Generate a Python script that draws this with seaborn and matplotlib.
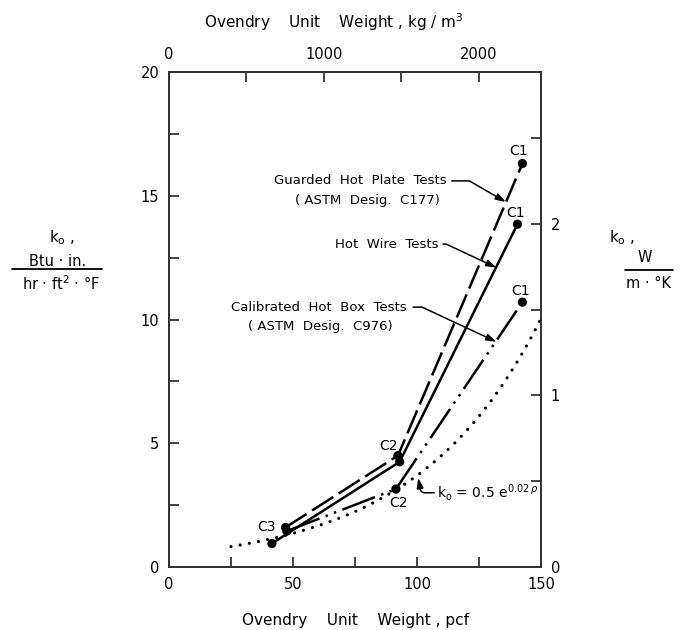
import numpy as np
import pandas as pd
import matplotlib
matplotlib.use("Agg")
import matplotlib.pyplot as plt
import seaborn as sns
from matplotlib.ticker import FixedLocator, MultipleLocator

sns.set_style("ticks")
plt.rcParams["font.family"] = ["DejaVu Sans"]
plt.rcParams["mathtext.fontset"] = "dejavusans"
plt.rcParams["text.color"] = "black"

# Thermal conductivity k0 (Btu·in./hr·ft²·°F) vs ovendry unit weight (pcf)
series_names = ["Guarded Hot Plate", "Hot Wire", "Calibrated Hot Box"]
guarded_pcf = [47.0, 92.3, 142.5]
guarded_k = [1.60, 4.50, 16.3]
hotwire_pcf = [41.5, 93.0, 140.5]
hotwire_k = [0.95, 4.25, 13.85]
hotbox_pcf = [47.5, 91.5, 142.5]
hotbox_k = [1.45, 3.15, 10.7]
point_names = ["C3", "C2", "C1"]

# Regression curve k0 = 0.5 e^(0.02 rho), drawn over 25..150 pcf
fit_a = 0.5
fit_b = 0.02
fit_start, fit_end = 25, 150

# Unit conversions for the secondary axes
PCF_TO_KGM3 = 16.0185
BTUIN_TO_WMK = 0.1442

df = pd.DataFrame({
    "series": np.repeat(series_names, 3),
    "pcf": guarded_pcf + hotwire_pcf + hotbox_pcf,
    "k": guarded_k + hotwire_k + hotbox_k,
    "point": point_names * 3,
})

W, H = 687, 630
fig = plt.figure(figsize=(W / 100, H / 100), dpi=100)
L, R, T, B = 169, 541, 72, 567
ax = fig.add_axes([L / W, 1 - B / H, (R - L) / W, (B - T) / H])

sns.lineplot(
    data=df, x="pcf", y="k", hue="series", style="series",
    palette={n: "black" for n in series_names},
    dashes={"Guarded Hot Plate": (10, 2.6), "Hot Wire": "",
            "Calibrated Hot Box": (14, 2.6, 1, 2.6, 1, 2.6)},
    sort=False, estimator=None, linewidth=1.8, legend=False, ax=ax,
)
sns.scatterplot(data=df, x="pcf", y="k", color="black", s=44,
                edgecolor="none", legend=False, ax=ax, zorder=5)

rho = np.linspace(fit_start, fit_end, 300)
sns.lineplot(x=rho, y=fit_a * np.exp(fit_b * rho), ax=ax, color="black",
             linewidth=2.3, linestyle=(0, (0.01, 2.9)),
             dash_capstyle="round")

# Point labels (series, index, offset in points)
label_spots = [
    ("Guarded Hot Plate", 0, (-14, 0)),
    ("Guarded Hot Plate", 1, (-7, 7)),
    ("Calibrated Hot Box", 1, (2, -10)),
    ("Guarded Hot Plate", 2, (-3, 9)),
    ("Hot Wire", 2, (-1, 8)),
    ("Calibrated Hot Box", 2, (-1, 8)),
]
for name, i, off in label_spots:
    row = df[df.series == name].iloc[i]
    ax.annotate(row.point, (row.pcf, row.k), xytext=off,
                textcoords="offset points", ha="center", va="center",
                fontsize=10, color="black")

ax.set_xlim(0, 150)
ax.set_ylim(0, 20)
ax.xaxis.set_major_locator(MultipleLocator(50))
ax.xaxis.set_minor_locator(MultipleLocator(25))
ax.yaxis.set_major_locator(MultipleLocator(5))
ax.yaxis.set_minor_locator(MultipleLocator(2.5))
ax.set_xlabel("")
ax.set_ylabel("")

# Top axis in kg/m3, right axis in W/m·K
ax_top = ax.twiny()
ax_top.set_xlim(0, 150 * PCF_TO_KGM3)
ax_top.xaxis.set_major_locator(FixedLocator([0, 1000, 2000]))
ax_top.xaxis.set_minor_locator(FixedLocator([500, 1500]))
ax_r = ax.twinx()
ax_r.set_ylim(0, 20 * BTUIN_TO_WMK)
ax_r.yaxis.set_major_locator(FixedLocator([0, 1, 2]))
ax_r.yaxis.set_minor_locator(FixedLocator([0.5, 1.5, 2.5]))

for a in (ax, ax_top, ax_r):
    a.tick_params(which="both", direction="in", length=7, width=1.2,
                  color="#222222", labelsize=10.5, labelcolor="black", pad=7)
    for s in a.spines.values():
        s.set_color("#333333")
        s.set_linewidth(1.3)

# Curve annotations with elbow leaders
def leader(start, tip, angB, rad=0):
    ax.annotate("", xy=tip, xytext=start,
                arrowprops=dict(arrowstyle="-|>,head_length=0.6,head_width=0.2",
                                color="black", lw=1.1, shrinkA=0, shrinkB=0,
                                connectionstyle=f"angle,angleA=0,angleB={angB},rad={rad}"))

fs = 9.5
ax.text(112.0, 15.6, "Guarded  Hot  Plate  Tests", ha="right", va="center", fontsize=fs)
ax.text(80.0, 14.8, "( ASTM  Desig.  C177)", ha="center", va="center", fontsize=fs)
leader((114.0, 15.6), (135.8, 14.75), 150)
ax.text(108.5, 13.05, "Hot  Wire  Tests", ha="right", va="center", fontsize=fs)
leader((110.5, 13.05), (132.0, 12.1), 155)
ax.text(96.0, 10.5, "Calibrated  Hot  Box  Tests", ha="right", va="center", fontsize=fs)
ax.text(61.0, 9.7, "( ASTM  Desig.  C976)", ha="center", va="center", fontsize=fs)
leader((98.4, 10.5), (132.0, 9.1), 155)
ax.text(108.0, 3.0, r"k$_{\rm o}$ = 0.5 e$^{\rm 0.02\,\it\rho}$", ha="left",
        va="center", fontsize=10)
leader((107.0, 3.0), (100.5, 3.6), 100, rad=4)

# Axis titles
def ftext(x, y, s, **kw):
    fig.text(x / W, 1 - y / H, s, ha="center", va="center", **kw)

ftext(355, 620, "Ovendry    Unit    Weight , pcf", fontsize=11)
ftext(334, 22, "Ovendry    Unit    Weight , kg / m$^{\\rm 3}$", fontsize=11)
ftext(62, 238, r"k$_{\rm o}$ ,", fontsize=11)
ftext(58, 261, "Btu · in.", fontsize=10.5)
ftext(61, 284, "hr · ft$^{\\rm 2}$ · °F", fontsize=10.5)
fig.add_artist(plt.Line2D([12 / W, 102 / W], [1 - 269 / H] * 2, color="black", lw=1.3))
ftext(622, 238, r"k$_{\rm o}$ ,", fontsize=11)
ftext(645, 258, "W", fontsize=10.5)
ftext(649, 284, "m · °K", fontsize=10.5)
fig.add_artist(plt.Line2D([625 / W, 673 / W], [1 - 270 / H] * 2, color="black", lw=1.3))

fig.savefig("out.png", dpi=100, facecolor="white")
